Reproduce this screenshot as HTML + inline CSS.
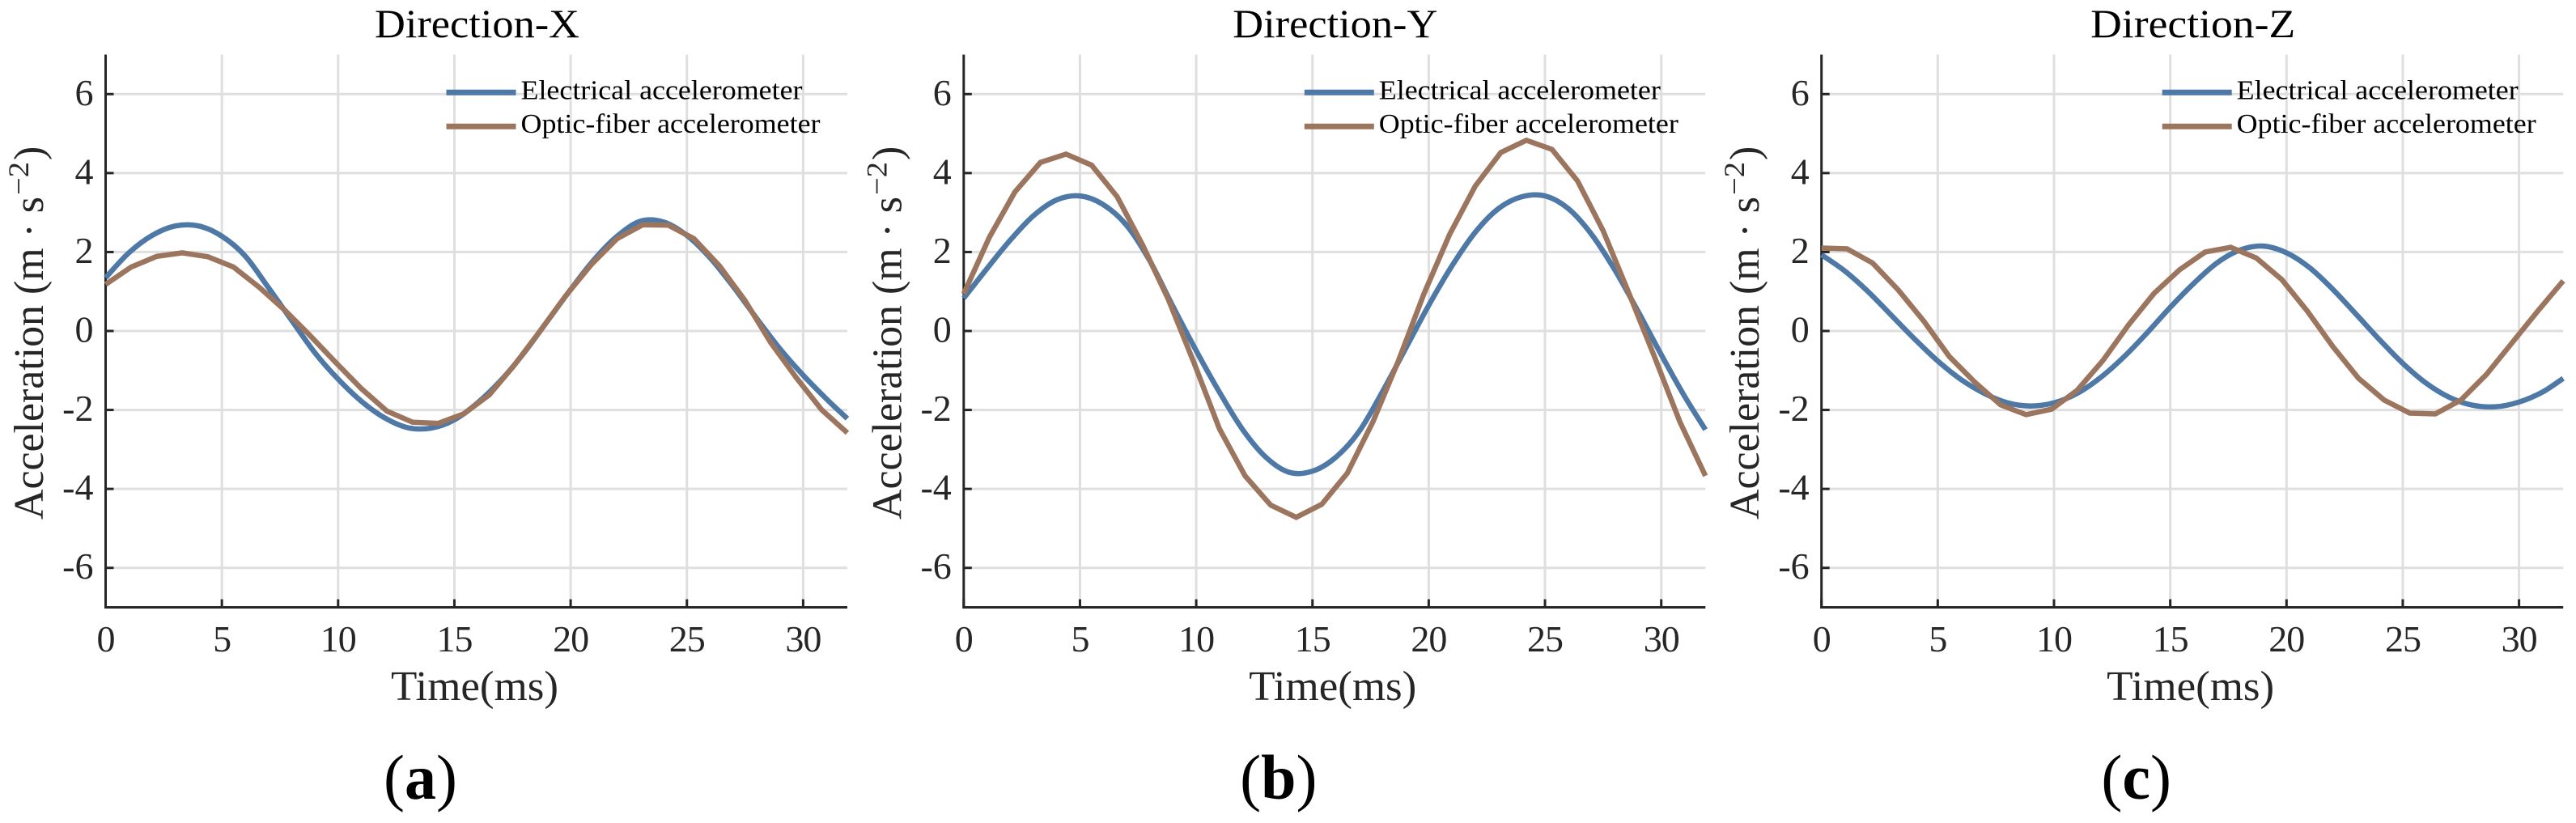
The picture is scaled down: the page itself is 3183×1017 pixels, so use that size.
<!DOCTYPE html>
<html>
<head>
<meta charset="utf-8">
<title>Acceleration by direction</title>
<style>
html,body{margin:0;padding:0;background:#fff;}
svg{display:block;}
text{font-family:"Liberation Serif",serif;}
</style>
</head>
<body>
<svg id="figure" xmlns="http://www.w3.org/2000/svg" width="3183" height="1017" viewBox="0 0 3183 1017">
<rect width="3183" height="1017" fill="#fff"/>
<g id="panel-x"></g>
<g id="panel-y"></g>
<g id="panel-z"></g>
</svg>
<script>
const xTickValues = [0, 5, 10, 15, 20, 25, 30];
const yTickValues = [-6, -4, -2, 0, 2, 4, 6];
const legendLabels = ["Electrical accelerometer", "Optic-fiber accelerometer"];
const panelTitles = ["Direction-X", "Direction-Y", "Direction-Z"];
const panelLetters = ["a", "b", "c"];

const electricalTime = [0,1,2,3,4,5,6,7,8,9,10,11,12,13,14,15,16,17,18,19,20,21,22,23,24,25,26,27,28,29,30,31,31.9];
const opticTime = [0,1.1,2.2,3.3,4.4,5.5,6.6,7.7,8.8,9.9,11,12.1,13.2,14.3,15.4,16.5,17.6,18.7,19.8,20.9,22,23.1,24.2,25.3,26.4,27.5,28.6,29.7,30.8,31.9];

const electricalX = [1.35,1.98,2.42,2.66,2.66,2.4,1.9,1.1,0.27,-0.55,-1.22,-1.78,-2.2,-2.45,-2.46,-2.25,-1.82,-1.25,-0.55,0.25,1.05,1.8,2.4,2.78,2.76,2.42,1.85,1.12,0.32,-0.45,-1.12,-1.72,-2.22];
const opticX = [1.18,1.62,1.89,1.98,1.88,1.62,1.11,0.53,-0.12,-0.8,-1.46,-2.03,-2.31,-2.34,-2.1,-1.62,-0.85,0.01,0.9,1.69,2.34,2.69,2.68,2.34,1.65,0.77,-0.29,-1.18,-2.0,-2.58];

const electricalY = [0.83,1.58,2.3,2.92,3.32,3.42,3.2,2.68,1.78,0.62,-0.5,-1.55,-2.5,-3.2,-3.58,-3.55,-3.2,-2.55,-1.55,-0.45,0.65,1.65,2.5,3.1,3.4,3.42,3.1,2.45,1.55,0.5,-0.6,-1.65,-2.5];
const opticY = [0.94,2.37,3.52,4.27,4.48,4.2,3.4,2.17,0.8,-0.8,-2.48,-3.67,-4.41,-4.72,-4.39,-3.6,-2.3,-0.75,0.95,2.45,3.67,4.52,4.83,4.6,3.8,2.54,0.97,-0.64,-2.3,-3.67];

const electricalZ = [1.93,1.52,1.0,0.4,-0.2,-0.76,-1.23,-1.58,-1.82,-1.9,-1.82,-1.58,-1.18,-0.66,-0.05,0.6,1.2,1.72,2.05,2.15,1.98,1.6,1.05,0.42,-0.22,-0.82,-1.32,-1.68,-1.88,-1.92,-1.8,-1.55,-1.2];
const opticZ = [2.1,2.08,1.72,1.04,0.25,-0.65,-1.3,-1.87,-2.12,-1.98,-1.5,-0.75,0.15,0.95,1.55,2.0,2.12,1.85,1.3,0.5,-0.4,-1.2,-1.75,-2.08,-2.1,-1.75,-1.1,-0.3,0.5,1.27];

const NS = "http://www.w3.org/2000/svg";
const PLOT = {top: 67.5, bottom: 750.5, xMax: 31.9, pxPerMs: 28.73, yMax: 7, yMin: -7};
const BLUE = "#4e79a7", BROWN = "#9c755f", AXIS = "#262626", GRID = "#dfdfdf";

function make(parent, tag, attrs, content) {
  const el = document.createElementNS(NS, tag);
  for (const k in attrs) el.setAttribute(k, attrs[k]);
  if (content !== undefined) el.textContent = content;
  parent.appendChild(el);
  return el;
}
function scaleY(v) {
  return PLOT.top + (PLOT.yMax - v) / (PLOT.yMax - PLOT.yMin) * (PLOT.bottom - PLOT.top);
}
function smoothPath(xs, ys) {
  let d = "M" + xs[0].toFixed(2) + " " + ys[0].toFixed(2);
  for (let i = 0; i < xs.length - 1; i++) {
    const p = Math.max(i - 1, 0), n = Math.min(i + 2, xs.length - 1);
    const c1x = xs[i] + (xs[i + 1] - xs[p]) / 6, c1y = ys[i] + (ys[i + 1] - ys[p]) / 6;
    const c2x = xs[i + 1] - (xs[n] - xs[i]) / 6, c2y = ys[i + 1] - (ys[n] - ys[i]) / 6;
    d += "C" + c1x.toFixed(2) + " " + c1y.toFixed(2) + " " + c2x.toFixed(2) + " " + c2y.toFixed(2) + " " + xs[i + 1].toFixed(2) + " " + ys[i + 1].toFixed(2);
  }
  return d;
}

function drawPanel(group, originX, title, letter, seriesElectrical, seriesOptic) {
  const sx = t => originX + t * PLOT.pxPerMs;
  const right = sx(PLOT.xMax);

  for (const t of xTickValues) {
    if (t === 0) continue;
    const grid = make(group, "line", {x1: sx(t), x2: sx(t), y1: PLOT.top, y2: PLOT.bottom, stroke: GRID, "stroke-width": 3});
    
    
  }
  for (const v of yTickValues) {
    const grid = make(group, "line", {x1: originX, x2: right, y1: scaleY(v), y2: scaleY(v), stroke: GRID, "stroke-width": 3});
    
    
  }

  const yAxis = make(group, "line", {x1: originX, x2: originX, y1: PLOT.top, y2: PLOT.bottom + 1.5, stroke: AXIS, "stroke-width": 3});
  
  
  const xAxis = make(group, "line", {x1: originX - 1.5, x2: right, y1: PLOT.bottom, y2: PLOT.bottom, stroke: AXIS, "stroke-width": 3});
  
  

  for (const t of xTickValues) {
    const tick = make(group, "line", {x1: sx(t), x2: sx(t), y1: PLOT.bottom, y2: PLOT.bottom - 10, stroke: AXIS, "stroke-width": 3});
    
    
    const label = make(group, "text", {x: sx(t), y: 805, "text-anchor": "middle", "font-size": 46, fill: AXIS, "letter-spacing": "-1"}, String(t));
    
    
  }
  for (const v of yTickValues) {
    const tick = make(group, "line", {x1: originX, x2: originX + 10, y1: scaleY(v), y2: scaleY(v), stroke: AXIS, "stroke-width": 3});
    
    
    const label = make(group, "text", {x: originX - 15, y: scaleY(v) + 13.5, "text-anchor": "end", "font-size": 46, fill: AXIS}, String(v));
    
    
  }

  const lineE = make(group, "path", {d: smoothPath(electricalTime.map(sx), seriesElectrical.map(scaleY)), fill: "none", stroke: BLUE, "stroke-width": 6.5});
  
  
  const lineO = make(group, "polyline", {points: opticTime.map((t, i) => sx(t).toFixed(2) + "," + scaleY(seriesOptic[i]).toFixed(2)).join(" "), fill: "none", stroke: BROWN, "stroke-width": 6.5, "stroke-linejoin": "miter"});
  
  

  const titleEl = make(group, "text", {x: originX + 459, y: 46, "text-anchor": "middle", "font-size": 50, fill: "#000", textLength: 253, lengthAdjust: "spacingAndGlyphs"}, title);
  
  

  const xTitle = make(group, "text", {x: originX + 456, y: 865, "text-anchor": "middle", "font-size": 52, fill: AXIS, textLength: 207, lengthAdjust: "spacingAndGlyphs"}, "Time(ms)");
  
  

  const yMain = make(group, "text", {transform: "translate(" + (originX - 77.5) + ",642) rotate(-90)", "font-size": 52, fill: AXIS, textLength: 399, lengthAdjust: "spacingAndGlyphs"}, "Acceleration (m · s");
  
  
  const ySup = make(group, "text", {transform: "translate(" + (originX - 95.5) + ",241) rotate(-90)", "font-size": 36, fill: AXIS, textLength: 41, lengthAdjust: "spacingAndGlyphs"}, "−2");
  
  
  const yClose = make(group, "text", {transform: "translate(" + (originX - 77.5) + ",198) rotate(-90)", "font-size": 52, fill: AXIS}, ")");
  
  

  const keyE = make(group, "line", {x1: originX + 421, x2: originX + 507, y1: 114.3, y2: 114.3, stroke: BLUE, "stroke-width": 7});
  
  
  const keyO = make(group, "line", {x1: originX + 421, x2: originX + 507, y1: 156.3, y2: 156.3, stroke: BROWN, "stroke-width": 7});
  
  
  const textE = make(group, "text", {x: originX + 513, y: 122.5, "font-size": 34, fill: "#000", textLength: 348, lengthAdjust: "spacingAndGlyphs"}, legendLabels[0]);
  
  
  const textO = make(group, "text", {x: originX + 513, y: 164, "font-size": 34, fill: "#000", textLength: 370, lengthAdjust: "spacingAndGlyphs"}, legendLabels[1]);
  
  

  const tag = make(group, "text", {x: originX + 389, y: 987, "text-anchor": "middle", "font-size": 78, fill: "#000"});
  
  
  make(tag, "tspan", {}, "(");
  make(tag, "tspan", {"font-weight": "bold"}, letter);
  make(tag, "tspan", {}, ")");
}

drawPanel(document.getElementById("panel-x"), 130.5, panelTitles[0], panelLetters[0], electricalX, opticX);
drawPanel(document.getElementById("panel-y"), 1190.8, panelTitles[1], panelLetters[1], electricalY, opticY);
drawPanel(document.getElementById("panel-z"), 2250.7, panelTitles[2], panelLetters[2], electricalZ, opticZ);
</script>
</body>
</html>
